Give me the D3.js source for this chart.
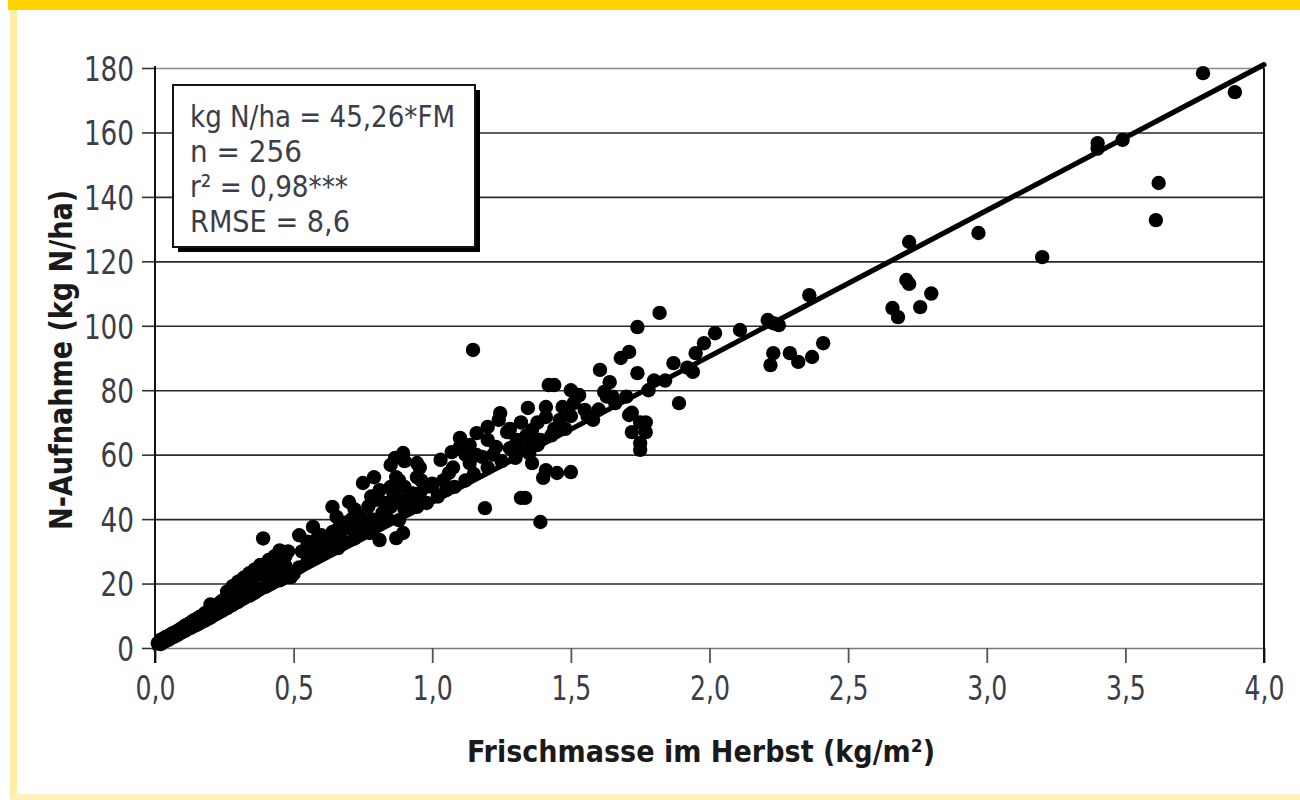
<!DOCTYPE html>
<html>
<head>
<meta charset="utf-8">
<script src="https://cdn.jsdelivr.net/npm/d3@7"></script>
<style>
  body { margin: 0; background: #fff; }
  svg { display: block; }
</style>
</head>
<body>
<div id="chart"></div>
<script>
// tick values
var xTicks = [0, 0.5, 1, 1.5, 2, 2.5, 3, 3.5, 4];
var yTicks = [0, 20, 40, 60, 80, 100, 120, 140, 160, 180];

// regression: kg N/ha = 45,26 * FM
var slope = 45.26;
var statLines = ["kg N/ha = 45,26*FM", "n = 256", "r\u00b2 = 0,98***", "RMSE = 8,6"];

// [Frischmasse kg/m2, N-Aufnahme kg N/ha]
var pointsLow = [
  [0.01,1.5],[0.02,1.2],[0.02,2.5],[0.03,1.8],[0.03,3.0],[0.04,2.2],[0.04,3.5],[0.05,2.6],[0.05,3.8],
  [0.06,3.2],[0.06,4.4],[0.07,3.5],[0.07,4.8],[0.08,4.0],[0.08,5.2],[0.09,4.5],[0.09,5.8],[0.10,5.0],
  [0.10,6.3],[0.11,5.4],[0.11,7.0],[0.12,6.0],[0.12,7.4],[0.13,6.3],[0.13,8.0],[0.14,6.8],[0.14,8.6],
  [0.15,7.2],[0.15,9.0],[0.16,7.6],[0.16,9.6],[0.17,8.2],[0.17,10.0],[0.18,8.5],[0.18,10.8],[0.19,9.0],
  [0.19,11.2],[0.20,9.4],[0.20,11.8],[0.20,13.5],[0.21,10.0],[0.21,12.4],[0.22,10.5],[0.22,13.0],
  [0.23,11.0],[0.23,13.8],[0.24,11.4],[0.24,13.0],[0.24,14.5],[0.25,12.0],[0.25,15.0],[0.26,12.4],
  [0.26,15.8],[0.27,13.0],[0.27,16.5],[0.28,13.4],[0.28,17.2],[0.29,14.0],[0.29,17.8],[0.30,14.3],
  [0.30,16.5],[0.30,18.5],[0.31,15.0],[0.31,19.0],[0.32,15.4],[0.32,19.8],[0.33,16.0],[0.33,20.5],
  [0.34,16.2],[0.34,21.0],[0.35,16.8],[0.35,19.5],[0.35,21.8],[0.36,17.2],[0.36,22.4],[0.37,17.8],
  [0.37,23.0],[0.38,18.3],[0.38,23.5],[0.39,18.8],[0.39,24.0],[0.39,34.0],[0.40,19.0],[0.40,22.0],
  [0.40,24.5],[0.41,19.6],[0.41,25.0],[0.42,20.0],[0.42,25.6],[0.43,20.5],[0.43,26.0],[0.44,21.0],
  [0.44,24.5],[0.44,27.0],[0.45,21.0],[0.45,28.0],[0.46,21.5],[0.46,29.0],[0.47,22.0],[0.47,25.5],
  [0.47,28.5],[0.48,22.5],[0.48,30.0],[0.49,22.0],[0.50,23.0],
  [0.26,17.5],[0.28,19.2],[0.30,20.6],[0.32,21.8],[0.34,23.2],[0.36,24.4],[0.38,25.8],[0.41,27.3],
  [0.43,28.4],[0.45,30.3]
];

var pointsMid = [
  [0.52,35],[0.55,33],[0.57,37.6],[0.58,33.5],[0.60,35],[0.62,34.5],[0.57,31],[0.60,32],[0.64,43.8],
  [0.655,40.7],[0.66,37],[0.70,45.3],[0.72,43],[0.75,51.2],[0.79,53],[0.70,37.2],[0.75,38.8],[0.73,36],
  [0.81,33.5],[0.87,34.1],[0.80,38.8],[0.82,41.9],[0.86,48],[0.87,53],[0.85,43.8],[0.895,45],[0.93,48],
  [0.97,49.7],[0.98,45],[0.945,53],[0.866,59],[0.85,56.8],[0.88,46],[0.92,48],[0.955,48],[0.88,39.7],
  [0.895,35.7],[0.955,56],[0.895,60.5],[0.90,58],[0.81,49],[0.775,35.7],[0.945,57.4],[0.945,43.8],
  [0.53,30],[0.56,29],[0.60,29],[0.63,32],[0.64,36],[0.67,34],[0.69,39],[0.71,40],[0.74,41],[0.77,44],
  [0.78,47],[0.80,46],[0.83,45],[0.85,50],[0.88,52],[0.90,50],[0.92,44],[0.96,52],[1.00,50],
  [0.52,25],[0.55,27],[0.58,28],[0.62,30],[0.66,31],[0.68,33],[0.72,34],[0.76,36],[0.78,40],[0.84,40],
  [0.90,43],[0.95,45]
];

var pointsUpper = [
  [1.00,51],[1.03,58.4],[1.04,52],[1.06,54.3],[1.075,56],[1.07,60.8],[1.10,65.2],[1.10,62.4],[1.135,63],
  [1.135,57.4],[1.16,59.9],[1.18,59.3],[1.147,92.5],[1.16,66.7],[1.20,68.6],[1.20,64.6],[1.23,62.4],
  [1.245,72.9],[1.24,70.8],[1.27,67],[1.28,62],[1.305,64.6],[1.32,62],[1.34,66],[1.345,74.5],[1.35,60.5],
  [1.36,67.7],[1.36,63.6],[1.36,57.4],[1.39,64.6],[1.41,74.8],[1.41,71.7],[1.42,81.6],[1.44,81.6],
  [1.46,70.8],[1.47,74.8],[1.41,55.2],[1.40,52.8],[1.45,54.3],[1.50,54.6],[1.335,46.6],[1.32,46.6],
  [1.19,43.4],[1.39,39.1],[1.02,47],[1.05,49],[1.08,50],[1.12,52],[1.15,54],[1.20,56],[1.25,58],
  [1.30,59],[1.38,63],[1.43,66],[1.48,68],[1.12,60],[1.22,60],[1.28,68],[1.32,70],[1.38,70],[1.44,68],
  [1.50,72],[1.50,80],[1.51,76],[1.52,78],[1.53,78.5],[1.55,73.9],[1.58,70.8],[1.605,86.3],[1.62,79.5],
  [1.63,78],[1.64,82.5],[1.65,78],[1.68,90],[1.71,91.9],[1.74,99.6],[1.74,85.3],[1.72,73],[1.71,72.3],
  [1.75,70],[1.72,67],[1.77,67],[1.75,63.6],[1.75,61.5],[1.77,70],[1.80,83],[1.82,104],[1.56,72],
  [1.60,74],[1.66,76],[1.70,78],[1.78,80]
];

var pointsHigh = [
  [1.87,88.4],[1.89,76],[1.94,85.7],[1.95,91.5],[1.98,94.6],[2.02,97.7],[2.11,98.7],[2.21,101.8],
  [2.23,100.8],[2.25,100.2],[2.23,91.5],[2.22,87.8],[2.29,91.5],[2.32,88.8],[2.37,90.3],[2.41,94.6],
  [2.36,109.5],[1.84,83],[1.92,87],[2.66,105.5],[2.68,102.7],[2.72,126],[2.71,114.2],[2.72,113],
  [2.76,105.8],[2.80,110],[2.97,128.8],[3.20,121.3],[3.40,156.7],[3.40,155],[3.49,157.7],[3.62,144.3],
  [3.61,132.8],[3.78,178.4],[3.895,172.5]
];

var allPoints = pointsLow.concat(pointsMid, pointsUpper, pointsHigh);

var W = 1300, H = 800;
var plot = { left: 155, right: 1264, top: 68, bottom: 648 };
var narrow = "'Liberation Sans Narrow', 'Arial Narrow', 'DejaVu Sans Condensed', sans-serif";
var tickColor = "#3b3e48";

var svg = d3.select("#chart").append("svg")
  .attr("width", W)
  .attr("height", H);

// page frame: yellow band on top, pale strips left and bottom
svg.append("rect").attr("x", 8).attr("y", 0).attr("width", W - 8).attr("height", 10).attr("fill", "#ffd400");
svg.append("rect").attr("x", 10).attr("y", 10).attr("width", 7).attr("height", H - 10).attr("fill", "#ffeda5");
svg.append("rect").attr("x", 10).attr("y", 794).attr("width", W - 10).attr("height", 6).attr("fill", "#fff1b8");

var x = d3.scaleLinear().domain([0, 4]).range([plot.left, plot.right]);
var y = d3.scaleLinear().domain([0, 180]).range([plot.bottom, plot.top]);

var comma = function(f) { return function(d) { return f(d).replace(".", ","); }; };

// horizontal grid
svg.append("g")
  .attr("transform", "translate(" + plot.left + ",0)")
  .call(d3.axisLeft(y).tickValues(yTicks.slice(1)).tickSize(-(plot.right - plot.left)).tickFormat(""))
  .call(function(g) {
    g.select(".domain").remove();
    g.selectAll(".tick line").attr("stroke", "#2a2a2a").attr("stroke-width", 1.6);
    g.selectAll(".tick").filter(function(d) { return d === 180; }).select("line").attr("stroke", "#8a8a8a");
  });

// y axis with labels
svg.append("g")
  .attr("transform", "translate(" + plot.left + ",0)")
  .call(d3.axisLeft(y).tickValues(yTicks).tickSize(13).tickPadding(8).tickFormat(d3.format("d")))
  .call(function(g) {
    g.select(".domain").remove();
    g.selectAll(".tick line").attr("stroke", "#333").attr("stroke-width", 1.6);
    g.selectAll(".tick text")
      .attr("fill", tickColor)
      .attr("textLength", function(d) { return String(d).length * 16.7; })
      .attr("lengthAdjust", "spacingAndGlyphs")
      .style("font-family", narrow)
      .style("font-size", "34px")
      .attr("dy", "0.36em");
  });

// x axis
svg.append("g")
  .attr("transform", "translate(0," + plot.bottom + ")")
  .call(d3.axisBottom(x).tickValues(xTicks).tickSize(15).tickPadding(13).tickFormat(comma(d3.format(".1f"))))
  .call(function(g) {
    g.select(".domain").attr("stroke", "#777").attr("stroke-width", 1.6);
    g.selectAll(".tick line").attr("stroke", "#555").attr("stroke-width", 1.8);
    g.selectAll(".tick text")
      .attr("fill", tickColor)
      .attr("textLength", 40)
      .attr("lengthAdjust", "spacingAndGlyphs")
      .style("font-family", narrow)
      .style("font-size", "34px")
      .attr("dy", "0.72em");
  });

// left and right frame lines
svg.append("line")
  .attr("x1", plot.left).attr("x2", plot.left)
  .attr("y1", plot.top - 2).attr("y2", plot.bottom + 15)
  .attr("stroke", "#111").attr("stroke-width", 2);
svg.append("line")
  .attr("x1", plot.right).attr("x2", plot.right)
  .attr("y1", plot.top).attr("y2", plot.bottom + 15)
  .attr("stroke", "#111").attr("stroke-width", 2);

// scatter points
svg.append("g")
  .selectAll("circle")
  .data(allPoints)
  .enter()
  .append("circle")
    .attr("cx", function(d) { return x(d[0]); })
    .attr("cy", function(d) { return y(d[1]); })
    .attr("r", 7.2)
    .attr("fill", "#000");

// regression line
svg.append("line")
  .attr("x1", x(0)).attr("y1", y(0))
  .attr("x2", x(4)).attr("y2", y(slope * 4))
  .attr("stroke", "#000")
  .attr("stroke-width", 5.2)
  .attr("stroke-linecap", "round");

// stats box with shadow
var box = { x: 173, y: 85, w: 302, h: 162 };
svg.append("rect")
  .attr("x", box.x + 5).attr("y", box.y + 5)
  .attr("width", box.w).attr("height", box.h)
  .attr("fill", "#000");
svg.append("rect")
  .attr("x", box.x).attr("y", box.y)
  .attr("width", box.w).attr("height", box.h)
  .attr("fill", "#fff")
  .attr("stroke", "#111")
  .attr("stroke-width", 2);

var statBase = [127, 162, 197, 232];
var statWidth = [265, 112, 158, 160];
svg.selectAll("text.stat")
  .data(statLines)
  .enter()
  .append("text")
    .attr("class", "stat")
    .attr("x", 190)
    .attr("y", function(d, i) { return statBase[i]; })
    .attr("textLength", function(d, i) { return statWidth[i]; })
    .attr("lengthAdjust", "spacingAndGlyphs")
    .attr("fill", tickColor)
    .style("font-family", narrow)
    .style("font-size", "31px")
    .text(function(d) { return d; });

// axis titles
svg.append("text")
  .attr("x", 467)
  .attr("y", 762)
  .attr("textLength", 468)
  .attr("lengthAdjust", "spacingAndGlyphs")
  .attr("fill", "#1a1a1a")
  .style("font-family", narrow)
  .style("font-weight", "bold")
  .style("font-size", "31px")
  .text("Frischmasse im Herbst (kg/m\u00b2)");

svg.append("text")
  .attr("transform", "translate(72,530) rotate(-90)")
  .attr("x", 0)
  .attr("y", 0)
  .attr("textLength", 340)
  .attr("lengthAdjust", "spacingAndGlyphs")
  .attr("fill", "#1a1a1a")
  .style("font-family", narrow)
  .style("font-weight", "bold")
  .style("font-size", "32px")
  .text("N-Aufnahme (kg N/ha)");
</script>
</body>
</html>
